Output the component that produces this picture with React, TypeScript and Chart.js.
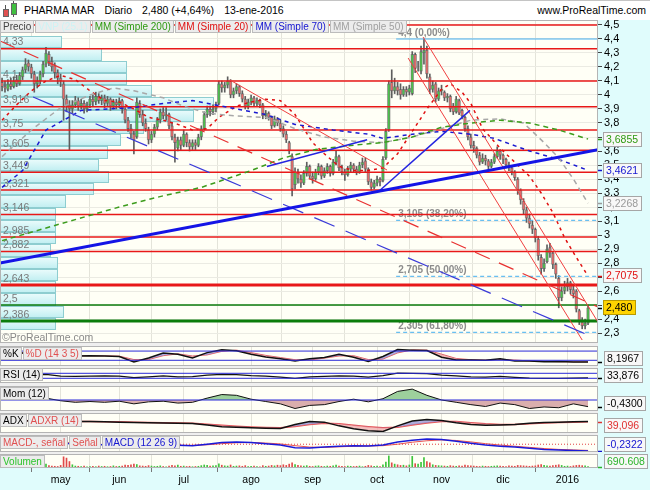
import React, { useEffect, useRef } from "react";
import { Chart, registerables } from "chart.js";

Chart.register(...registerables);

const FONT = '"Liberation Sans", Arial, Helvetica, sans-serif';
Chart.defaults.font.family = FONT;

/* ======================= DATA ======================= */

// trading-day index of the first session of each month
const MONTH_TICKS = [20, 40, 62, 85, 106, 128, 150, 171, 193];
const MONTH_LABELS = ["may", "jun", "jul", "ago", "sep", "oct", "nov", "dic", "2016"];
const PRICE_TICKS = [2.3, 2.4, 2.5, 2.6, 2.7, 2.8, 2.9, 3, 3.1, 3.2, 3.3, 3.4, 3.5, 3.6, 3.7, 3.8, 3.9, 4, 4.1, 4.2, 4.3, 4.4, 4.5];

// daily candles [open, high, low, close], 1-apr-2015 .. 13-jan-2016
const CANDLES = [
  [4.09, 4.12, 4.03, 4.06], [4.06, 4.10, 4.02, 4.05], [4.04, 4.11, 4.03, 4.08], [4.08, 4.12, 4.04, 4.06], [4.06, 4.13, 4.05, 4.10],
  [4.11, 4.14, 4.06, 4.08], [4.08, 4.16, 4.07, 4.14], [4.13, 4.20, 4.11, 4.18], [4.18, 4.26, 4.16, 4.22], [4.23, 4.25, 4.17, 4.20],
  [4.20, 4.22, 4.12, 4.15], [4.15, 4.17, 4.02, 4.08], [4.08, 4.13, 4.05, 4.10], [4.10, 4.17, 4.08, 4.15], [4.15, 4.24, 4.13, 4.22],
  [4.22, 4.34, 4.20, 4.30], [4.29, 4.31, 4.21, 4.24], [4.24, 4.27, 4.17, 4.20], [4.21, 4.23, 4.12, 4.16], [4.16, 4.18, 4.08, 4.12],
  [4.12, 4.15, 4.06, 4.10], [4.08, 4.10, 3.82, 3.97], [3.97, 4.00, 3.88, 3.92], [3.93, 3.96, 3.61, 3.90], [3.90, 3.96, 3.87, 3.93],
  [3.93, 3.99, 3.91, 3.96], [3.96, 3.98, 3.89, 3.92], [3.92, 3.97, 3.90, 3.94], [3.94, 3.96, 3.87, 3.90], [3.90, 3.95, 3.88, 3.93],
  [3.93, 3.99, 3.91, 3.97], [3.97, 4.00, 3.92, 3.95], [3.95, 4.02, 3.93, 3.99], [3.99, 4.01, 3.94, 3.96], [3.96, 4.00, 3.93, 3.98],
  [3.98, 4.00, 3.91, 3.94], [3.94, 3.99, 3.92, 3.97], [3.97, 3.98, 3.89, 3.92], [3.92, 3.97, 3.90, 3.95], [3.95, 3.97, 3.90, 3.93],
  [3.93, 3.98, 3.91, 3.96], [3.96, 3.97, 3.87, 3.90], [3.90, 3.91, 3.80, 3.82], [3.82, 3.84, 3.74, 3.76], [3.76, 3.79, 3.69, 3.72],
  [3.72, 3.74, 3.58, 3.68], [3.70, 3.98, 3.69, 3.95], [3.94, 3.96, 3.84, 3.86], [3.86, 3.89, 3.78, 3.80], [3.80, 3.83, 3.74, 3.76],
  [3.75, 3.77, 3.65, 3.68], [3.68, 3.74, 3.66, 3.72], [3.72, 3.79, 3.70, 3.77], [3.77, 3.84, 3.75, 3.82], [3.82, 3.90, 3.80, 3.88],
  [3.88, 3.91, 3.83, 3.85], [3.85, 3.91, 3.82, 3.86], [3.86, 3.87, 3.76, 3.78], [3.78, 3.80, 3.68, 3.70], [3.70, 3.72, 3.52, 3.66],
  [3.62, 3.70, 3.60, 3.68], [3.68, 3.70, 3.61, 3.64], [3.64, 3.75, 3.63, 3.72], [3.72, 3.73, 3.63, 3.66], [3.66, 3.68, 3.60, 3.63],
  [3.63, 3.68, 3.61, 3.66], [3.66, 3.68, 3.61, 3.64], [3.64, 3.72, 3.63, 3.70], [3.70, 3.78, 3.68, 3.76], [3.76, 3.88, 3.75, 3.86],
  [3.86, 3.92, 3.84, 3.90], [3.90, 3.92, 3.85, 3.88], [3.88, 3.93, 3.86, 3.90], [3.90, 3.95, 3.88, 3.92], [3.94, 4.10, 3.93, 4.08],
  [4.08, 4.10, 4.02, 4.05], [4.05, 4.09, 4.02, 4.07], [4.07, 4.13, 4.05, 4.10], [4.10, 4.11, 3.98, 4.00], [4.00, 4.05, 3.98, 4.03],
  [4.03, 4.08, 4.01, 4.06], [4.06, 4.07, 3.99, 4.01], [4.01, 4.03, 3.95, 3.97], [3.97, 3.99, 3.90, 3.92], [3.92, 3.97, 3.90, 3.95],
  [3.95, 4.00, 3.93, 3.98], [3.98, 3.99, 3.92, 3.94], [3.94, 3.98, 3.92, 3.96], [3.96, 3.97, 3.91, 3.93], [3.93, 3.94, 3.83, 3.85],
  [3.85, 3.89, 3.83, 3.87], [3.87, 3.88, 3.82, 3.84], [3.84, 3.85, 3.76, 3.78], [3.78, 3.85, 3.77, 3.83], [3.83, 3.84, 3.78, 3.80],
  [3.80, 3.82, 3.74, 3.76], [3.76, 3.78, 3.70, 3.72], [3.72, 3.74, 3.66, 3.68], [3.66, 3.67, 3.58, 3.60], [3.56, 3.58, 3.28, 3.33],
  [3.36, 3.48, 3.33, 3.45], [3.45, 3.47, 3.37, 3.40], [3.40, 3.43, 3.34, 3.37], [3.37, 3.46, 3.36, 3.44], [3.44, 3.52, 3.42, 3.49],
  [3.49, 3.50, 3.40, 3.42], [3.42, 3.45, 3.37, 3.40], [3.40, 3.47, 3.39, 3.45], [3.45, 3.51, 3.43, 3.49], [3.49, 3.50, 3.40, 3.42],
  [3.42, 3.48, 3.41, 3.46], [3.46, 3.51, 3.44, 3.49], [3.49, 3.50, 3.42, 3.44], [3.44, 3.54, 3.43, 3.52], [3.52, 3.60, 3.50, 3.56],
  [3.56, 3.57, 3.46, 3.48], [3.48, 3.50, 3.43, 3.45], [3.45, 3.47, 3.39, 3.43], [3.43, 3.49, 3.42, 3.47], [3.47, 3.52, 3.45, 3.50],
  [3.50, 3.51, 3.45, 3.47], [3.47, 3.49, 3.43, 3.45], [3.45, 3.52, 3.44, 3.50], [3.50, 3.55, 3.48, 3.52], [3.53, 3.55, 3.45, 3.47],
  [3.47, 3.48, 3.36, 3.38], [3.38, 3.40, 3.32, 3.34], [3.34, 3.39, 3.33, 3.37], [3.37, 3.42, 3.35, 3.40], [3.40, 3.41, 3.35, 3.38],
  [3.39, 3.56, 3.38, 3.54], [3.55, 3.76, 3.54, 3.74], [3.75, 4.10, 3.74, 4.08], [4.09, 4.18, 3.98, 4.03], [4.03, 4.12, 4.01, 4.06],
  [4.06, 4.09, 4.00, 4.03], [4.04, 4.08, 3.97, 4.00], [4.00, 4.06, 3.99, 4.04], [4.04, 4.06, 3.99, 4.02], [4.02, 4.07, 4.00, 4.05],
  [4.01, 4.31, 4.00, 4.29], [4.29, 4.30, 4.16, 4.19], [4.20, 4.24, 4.17, 4.20], [4.17, 4.35, 4.15, 4.31], [4.30, 4.40, 4.22, 4.32],
  [4.32, 4.35, 4.12, 4.15], [4.13, 4.15, 4.01, 4.04], [4.04, 4.10, 4.02, 4.07], [4.08, 4.09, 3.95, 3.97], [3.97, 4.05, 3.96, 4.03],
  [4.03, 4.07, 4.00, 4.04], [4.02, 4.03, 3.96, 3.98], [3.98, 4.01, 3.95, 3.99], [3.99, 4.00, 3.88, 3.90], [3.92, 3.94, 3.86, 3.88],
  [3.88, 3.99, 3.87, 3.97], [3.96, 3.97, 3.86, 3.87], [3.89, 3.90, 3.83, 3.85], [3.84, 3.85, 3.74, 3.76], [3.76, 3.78, 3.68, 3.70],
  [3.70, 3.72, 3.62, 3.64], [3.64, 3.67, 3.59, 3.62], [3.62, 3.63, 3.55, 3.57], [3.57, 3.59, 3.50, 3.52], [3.52, 3.58, 3.51, 3.55],
  [3.55, 3.57, 3.50, 3.53], [3.53, 3.54, 3.47, 3.49], [3.49, 3.54, 3.48, 3.52], [3.52, 3.58, 3.51, 3.56], [3.56, 3.63, 3.55, 3.60],
  [3.60, 3.61, 3.54, 3.57], [3.57, 3.58, 3.51, 3.54], [3.54, 3.55, 3.48, 3.50], [3.50, 3.52, 3.46, 3.48], [3.48, 3.49, 3.43, 3.45],
  [3.45, 3.46, 3.39, 3.41], [3.40, 3.41, 3.29, 3.32], [3.32, 3.33, 3.22, 3.25], [3.24, 3.26, 3.15, 3.18], [3.18, 3.20, 3.09, 3.12],
  [3.12, 3.15, 3.05, 3.08], [3.07, 3.10, 3.01, 3.04], [3.04, 3.05, 2.95, 2.98], [2.97, 2.99, 2.82, 2.85], [2.84, 2.86, 2.72, 2.76],
  [2.76, 2.83, 2.74, 2.80], [2.81, 2.93, 2.80, 2.90], [2.91, 2.94, 2.84, 2.87], [2.87, 2.88, 2.76, 2.79], [2.79, 2.80, 2.69, 2.72],
  [2.69, 2.71, 2.48, 2.55], [2.55, 2.63, 2.53, 2.60], [2.60, 2.67, 2.58, 2.63], [2.63, 2.69, 2.60, 2.66], [2.66, 2.67, 2.58, 2.61],
  [2.61, 2.64, 2.55, 2.58], [2.60, 2.61, 2.45, 2.47], [2.46, 2.47, 2.36, 2.38], [2.38, 2.41, 2.33, 2.35], [2.35, 2.40, 2.33, 2.37],
  [2.37, 2.50, 2.36, 2.48],
];

// daily volume, thousands of shares
const VOLUME_K = [
  900, 700, 800, 1100, 600, 700, 900, 1000, 1300, 800,
  1500, 1200, 900, 1000, 1400, 1800, 1100, 900, 800, 700,
  1200, 5200, 4600, 3000, 1500, 900, 800, 700, 900, 600,
  700, 800, 600, 900, 700, 800, 600, 700, 1000, 700,
  800, 900, 1300, 1200, 1500, 1800, 1600, 1000, 900, 800,
  1100, 900, 700, 800, 1000, 700, 600, 900, 1200, 1000,
  1300, 800, 900, 700, 800, 600, 700, 800, 1100, 1400,
  1200, 900, 1000, 1100, 1900, 1300, 1000, 900, 1400, 800,
  900, 1000, 800, 1100, 700, 800, 900, 700, 600, 1100,
  800, 900, 1200, 1000, 1300, 1100, 1500, 1200, 1800, 2400,
  1600, 1200, 1000, 900, 1100, 800, 700, 900, 1000, 800,
  700, 900, 800, 1000, 1300, 900, 800, 700, 900, 800,
  700, 800, 900, 600, 800, 1200, 1000, 800, 900, 700,
  1500, 2800, 5600, 2400, 1800, 1500, 1200, 1300, 1000, 1400,
  5400, 2000, 1800, 2600, 4800, 3000, 2400, 1500, 1200, 1100,
  1000, 900, 800, 1100, 900, 800, 1000, 900, 1300, 1100,
  1000, 900, 800, 700, 900, 800, 700, 800, 900, 1000,
  900, 800, 700, 1000, 900, 800, 1200, 1100, 1000, 900,
  800, 900, 1000, 1400, 1600, 1200, 1000, 900, 1100, 1300,
  1500, 1200, 800, 900, 700, 1000, 1200, 1300, 1100, 1000,
  690.608,
];

// moving averages: [day, value]
const MM20 = [[0, 3.82], [5, 3.93], [10, 4.03], [15, 4.10], [20, 4.14], [25, 4.11], [30, 4.03], [35, 3.96], [40, 3.95], [45, 3.90], [50, 3.84], [55, 3.82], [60, 3.79], [65, 3.75], [70, 3.76], [74, 3.84], [80, 3.92], [85, 3.95], [90, 3.97], [95, 3.96], [100, 3.86], [106, 3.66], [110, 3.58], [115, 3.49], [120, 3.46], [125, 3.46], [130, 3.48], [135, 3.58], [140, 3.74], [145, 3.90], [150, 4.04], [153, 4.08], [157, 4.02], [160, 3.94], [164, 3.76], [170, 3.62], [175, 3.52], [180, 3.42], [184, 3.30], [188, 3.16], [192, 2.98], [196, 2.84], [200, 2.7075]];
const MM50 = [[0, 3.56], [10, 3.75], [20, 3.91], [30, 4.0], [38, 4.05], [45, 4.03], [55, 3.98], [62, 3.92], [70, 3.87], [80, 3.85], [90, 3.84], [100, 3.76], [110, 3.70], [120, 3.67], [130, 3.66], [140, 3.70], [150, 3.76], [160, 3.82], [170, 3.83], [178, 3.80], [185, 3.66], [190, 3.55], [195, 3.40], [200, 3.2268]];
const MM70 = [[0, 3.34], [7, 3.46], [15, 3.75], [27, 3.89], [45, 3.91], [55, 3.94], [65, 3.96], [75, 3.92], [90, 3.86], [100, 3.79], [113, 3.75], [125, 3.72], [130, 3.69], [140, 3.72], [150, 3.74], [160, 3.72], [168, 3.69], [180, 3.60], [190, 3.54], [200, 3.4621]];
const MM200 = [[0, 2.96], [20, 3.08], [40, 3.2], [55, 3.28], [68, 3.34], [85, 3.46], [96, 3.55], [107, 3.61], [119, 3.64], [130, 3.66], [140, 3.70], [150, 3.77], [160, 3.80], [170, 3.82], [180, 3.80], [190, 3.75], [200, 3.6855]];

// horizontal support / resistance levels
const RED_LEVELS = [4.5, 4.33, 4.1, 3.916, 3.75, 3.605, 3.449, 3.321, 3.146, 2.985, 2.882];
const THICK_RED_LEVEL = 2.643;
const GREEN_LEVEL = 2.5;
const THICK_GREEN_LEVEL = 2.386;
const LEVEL_LABELS = [4.33, 4.1, 3.916, 3.75, 3.605, 3.449, 3.321, 3.146, 2.985, 2.882, 2.643, 2.5, 2.386];

// Fibonacci retracement
const FIB_START = 134.5;
const FIB_LEVELS = [4.4, 3.105, 2.705, 2.305];
const FIB_PCTS = ["0,00%", "38,20%", "50,00%", "61,80%"];

// volume-at-price profile (VNP), bins from the bottom up
const VNP_LOW = 2.32;
const VNP_STEP = 0.0875;
const VNP_VOLUME = [16, 25, 15, 16, 18, 18, 10, 15, 15, 15, 27, 60, 77, 66, 76, 91, 118, 177, 200, 128, 98, 98, 69, 23];
const VNP_MAX = 598;

// drawn trend lines: [[day, price], [day, price]]
const SUPPORT_LINE = [[-0.7, 2.80], [203.4, 3.61]];
const UP_LINE_1 = [[90.4, 3.49], [124.6, 3.68]];
const UP_LINE_2 = [[129, 3.32], [159.7, 3.89]];
const DOWN_BLUE_DASHED = [[10.6, 3.986], [200.7, 2.279]];
const DOWN_RED_DASHED = [[-0.7, 4.386], [203.4, 2.486]];
const AUG_RED_LINE = [[77.8, 4.107], [131.4, 3.464]];
const STEEP_RED_1 = [[138.6, 4.264], [198, 2.25]];
const STEEP_RED_2 = [[143.7, 4.414], [204, 2.357]];

// oscillators, sampled every 5 sessions
const OSC_DAYS = [0, 5, 10, 15, 20, 25, 30, 35, 40, 45, 50, 55, 60, 65, 70, 75, 80, 85, 90, 95, 100, 105, 110, 115, 120, 125, 130, 135, 140, 145, 150, 155, 160, 165, 170, 175, 180, 185, 190, 195, 200];
const STOCH_K = [70, 72, 60, 80, 50, 48, 50, 48, 45, 9, 35, 67, 60, 35, 70, 88, 82, 60, 42, 30, 15, 30, 38, 60, 40, 12, 45, 90, 86, 84, 40, 22, 22, 20, 30, 15, 15, 10, 12, 9, 8.1967];
const STOCH_D = [65, 70, 66, 72, 62, 50, 49, 49, 47, 25, 25, 50, 62, 48, 55, 78, 86, 70, 52, 38, 24, 22, 34, 48, 50, 25, 28, 68, 88, 86, 60, 32, 24, 21, 25, 22, 16, 13, 11, 10, 10];
const RSI = [55, 56, 58, 62, 48, 45, 48, 50, 48, 36, 42, 50, 42, 44, 55, 62, 60, 52, 48, 40, 30, 42, 45, 50, 48, 40, 52, 72, 70, 68, 55, 50, 42, 40, 45, 38, 32, 30, 30, 32, 33.876];
const MOM = [0.15, 0.1, 0.08, 0.12, -0.05, -0.15, -0.1, -0.15, -0.08, -0.25, -0.12, -0.08, -0.2, -0.15, 0.12, 0.35, 0.3, 0.05, -0.1, -0.25, -0.55, -0.35, -0.3, -0.1, 0.05, -0.12, 0.08, 0.55, 0.7, 0.3, 0.0, -0.15, -0.3, -0.42, -0.2, -0.3, -0.55, -0.45, -0.5, -0.25, -0.43];
const ADX = [45, 44, 42, 41, 40, 40, 40, 39, 38, 37, 36, 35, 34, 33, 28, 22, 20, 18, 17, 16, 30, 40, 38, 25, 15, 8, 5, 25, 42, 47, 44, 36, 30, 27, 28, 30, 34, 37, 38, 39, 40];
const ADXR = [44, 44, 43, 42, 41, 40, 40, 39, 39, 38, 37, 36, 35, 34, 31, 27, 24, 21, 19, 18, 23, 30, 34, 32, 27, 22, 18, 20, 28, 35, 40, 40, 36, 32, 30, 30, 32, 35, 37, 38, 39.096];
const MACD = [0.05, 0.06, 0.07, 0.09, 0.05, 0.0, -0.02, -0.02, -0.02, -0.05, -0.05, -0.03, -0.04, -0.05, 0.0, 0.06, 0.08, 0.06, 0.02, -0.03, -0.12, -0.13, -0.1, -0.07, -0.05, -0.06, -0.03, 0.08, 0.14, 0.18, 0.16, 0.1, 0.03, -0.03, -0.07, -0.1, -0.14, -0.18, -0.2, -0.22, -0.2322];
const MACD_SIGNAL = [0.04, 0.05, 0.06, 0.07, 0.07, 0.04, 0.01, -0.01, -0.02, -0.03, -0.04, -0.04, -0.04, -0.04, -0.02, 0.02, 0.05, 0.06, 0.04, 0.01, -0.05, -0.1, -0.11, -0.09, -0.07, -0.06, -0.05, 0.0, 0.07, 0.12, 0.15, 0.13, 0.08, 0.02, -0.03, -0.07, -0.11, -0.15, -0.18, -0.2, -0.215];

/* ======================= LAYOUT / STYLE ======================= */

const X_MIN = -0.7;
const X_MAX = 203.4;
const PRICE_MIN = 2.2286;
const PRICE_MAX = 4.5357;
const AXIS_W = 52;

const PLOT_BG = "#fffff6";
const AXIS_BG = "#e0fcfc";
const GAP_BG = "#efefef";
const PANEL_BORDER = "#b4b4b4";
const GRID = "#e4e4da";
const RED = "#e81818";
const BODY_GREEN = "#4cc04c";
const BODY_RED = "#e46a6a";

const P = {
  main: { top: 20, h: 323 },
  k: { top: 346, h: 20 },
  rsi: { top: 368, h: 15 },
  mom: { top: 386, h: 25 },
  adx: { top: 413, h: 20 },
  macd: { top: 435, h: 17 },
  vol: { top: 454, h: 14 },
};

const comma = (v: number, d: number) => v.toFixed(d).replace(".", ",");
const levelText = (v: number) => String(Math.round(v * 1000) / 1000).replace(".", ",");
const pts = (pairs: number[][]) => pairs.map(([x, y]) => ({ x, y }));
const osc = (vals: number[]) => OSC_DAYS.map((d, k) => ({ x: d, y: vals[k] }));
const hline = (v: number) => pts([[X_MIN, v], [X_MAX, v]]);
const last = (a: any[]) => a[a.length - 1];

function ln(data: any[], color: string, width: number, dash: number[] = [], order = 3, extra: any = {}) {
  return {
    type: "line", data, borderColor: color, borderWidth: width, borderDash: dash,
    pointRadius: 0, pointHoverRadius: 0, fill: false, tension: 0, order, borderCapStyle: "butt", ...extra,
  };
}

function xScale(labels: boolean) {
  return {
    type: "linear", min: X_MIN, max: X_MAX, offset: false,
    afterBuildTicks: (s: any) => { s.ticks = MONTH_TICKS.map((v) => ({ value: v })); },
    afterFit: (s: any) => { s.height = labels ? 22 : 0; s.paddingLeft = 0; s.paddingRight = 0; },
    grid: { color: GRID, drawTicks: labels, tickLength: 4, tickColor: "#777" },
    border: { display: false },
    ticks: {
      display: labels, autoSkip: false, maxRotation: 0, padding: 2, color: "#000",
      font: { family: FONT, size: 10.5 },
      callback: (v: number) => { const k = MONTH_TICKS.indexOf(v); return k >= 0 ? MONTH_LABELS[k] : ""; },
    },
  };
}

function drawBadge(ctx: any, x: number, yc: number, text: string, color: string, bg = "#f8f8f8", border = "#a6a6a6") {
  ctx.save();
  ctx.font = `10.5px ${FONT}`;
  const w = Math.ceil(ctx.measureText(text).width) + 6;
  const h = 15;
  const top = Math.round(yc - h / 2);
  ctx.fillStyle = bg;
  ctx.fillRect(x, top, w, h);
  ctx.strokeStyle = border;
  ctx.lineWidth = 1;
  ctx.strokeRect(x + 0.5, top + 0.5, w - 1, h - 1);
  ctx.fillStyle = color;
  ctx.textBaseline = "middle";
  ctx.textAlign = "left";
  ctx.fillText(text, x + 3, top + h / 2 + 0.5);
  ctx.restore();
}

function drawTick(ctx: any, x: number, y: number, color: string) {
  ctx.save();
  ctx.strokeStyle = color;
  ctx.lineWidth = 1.5;
  ctx.beginPath();
  ctx.moveTo(x, Math.round(y) + 0.5);
  ctx.lineTo(x + 4, Math.round(y) + 0.5);
  ctx.stroke();
  ctx.restore();
}

function fillArea(chart: any) {
  const { ctx, chartArea: a } = chart;
  ctx.save();
  ctx.fillStyle = PLOT_BG;
  ctx.fillRect(a.left, a.top, a.right - a.left, a.bottom - a.top);
  ctx.restore();
}

function strokeArea(chart: any) {
  const { ctx, chartArea: a } = chart;
  ctx.save();
  ctx.strokeStyle = PANEL_BORDER;
  ctx.lineWidth = 1;
  ctx.strokeRect(a.left + 0.5, a.top + 0.5, a.right - a.left - 1, a.bottom - a.top - 1);
  ctx.restore();
}

/* ======================= MAIN PRICE CHART ======================= */

const mainDecor = {
  id: "mainDecor",
  beforeDraw: (chart: any) => fillArea(chart),
  beforeDatasetsDraw(chart: any) {
    const { ctx, chartArea: a, scales } = chart;
    const y = scales.y, xv = scales.xv, x = scales.x;
    ctx.save();
    VNP_VOLUME.forEach((v, k) => {
      const lo = VNP_LOW + k * VNP_STEP;
      const y1 = Math.round(y.getPixelForValue(lo + VNP_STEP));
      const y2 = Math.round(y.getPixelForValue(lo));
      const x2 = Math.round(xv.getPixelForValue(v));
      const g = ctx.createLinearGradient(0, y1, 0, y2);
      g.addColorStop(0, "#ecfcfc");
      g.addColorStop(1, "#bfeef1");
      ctx.fillStyle = g;
      ctx.fillRect(a.left, y1, x2 - a.left, y2 - y1);
      ctx.strokeStyle = "#8ecdd0";
      ctx.lineWidth = 1;
      ctx.strokeRect(a.left + 0.5, y1 + 0.5, x2 - a.left - 1, y2 - y1 - 1);
    });
    ctx.font = `10.5px ${FONT}`;
    ctx.fillStyle = "#7a7a7a";
    ctx.textBaseline = "bottom";
    ctx.textAlign = "left";
    LEVEL_LABELS.forEach((p) => ctx.fillText(levelText(p), a.left + 3, y.getPixelForValue(p) - 1));
    ctx.font = `bold 10px ${FONT}`;
    ctx.fillStyle = "#8c8c8c";
    FIB_LEVELS.forEach((p, k) =>
      ctx.fillText(`${levelText(p)} (${FIB_PCTS[k]})`, x.getPixelForValue(FIB_START) + 2, y.getPixelForValue(p) - 1)
    );
    ctx.restore();
  },
  afterDraw(chart: any) {
    strokeArea(chart);
    const { ctx, chartArea: a, scales } = chart;
    const y = scales.y;
    const badges = [
      { v: last(MM200)[1], d: 4, color: "#2e9a10" },
      { v: last(MM70)[1], d: 4, color: "#1414d0" },
      { v: last(MM50)[1], d: 4, color: "#9a9a9a" },
      { v: last(MM20)[1], d: 4, color: "#e01010" },
    ];
    badges.forEach((b) => {
      const py = y.getPixelForValue(b.v);
      drawTick(ctx, a.right, py, b.color);
      drawBadge(ctx, a.right + 5, py, comma(b.v, b.d), b.color);
    });
    const close = last(CANDLES)[3];
    const py = y.getPixelForValue(close);
    drawTick(ctx, a.right, py, "#000");
    drawBadge(ctx, a.right + 5, py, comma(close, 3), "#000", "#ffd400", "#b89a00");
  },
};

function mainConfig() {
  const ds: any[] = [];
  RED_LEVELS.forEach((p) => ds.push(ln(hline(p), RED, 1.5, [], 4)));
  ds.push(ln(hline(THICK_RED_LEVEL), RED, 3, [], 4));
  ds.push(ln(hline(GREEN_LEVEL), "#0b7a0b", 1.5, [], 4));
  ds.push(ln(hline(THICK_GREEN_LEVEL), "#0b7d0b", 3, [], 4));
  FIB_LEVELS.forEach((p, k) => ds.push(ln(pts([[FIB_START, p], [X_MAX, p]]), "#44b0f0", 1, k ? [4, 3] : [], 4)));
  ds.push(ln(pts(SUPPORT_LINE), "#1414e6", 3, [], 2));
  ds.push(ln(pts(UP_LINE_1), "#2424e0", 1.5, [], 2));
  ds.push(ln(pts(UP_LINE_2), "#2424e0", 1.5, [], 2));
  ds.push(ln(pts(DOWN_BLUE_DASHED), "#3a3ad8", 1.2, [22, 12], 2));
  ds.push(ln(pts(DOWN_RED_DASHED), "#e83030", 1.2, [16, 10], 2));
  ds.push(ln(pts(AUG_RED_LINE), "#f04040", 1, [], 2));
  ds.push(ln(pts(STEEP_RED_1), "#f04040", 1, [], 2));
  ds.push(ln(pts(STEEP_RED_2), "#f04040", 1, [], 2));
  ds.push(ln(pts(MM200), "#3c9c1c", 1.5, [5, 4], 3));
  ds.push(ln(pts(MM50), "#a8a8a8", 1.5, [5, 4], 3));
  ds.push(ln(pts(MM70), "#1a1ad0", 1.5, [4, 4], 3));
  ds.push(ln(pts(MM20), "#e01010", 1.5, [3, 4], 3));
  ds.push({
    type: "bar", data: CANDLES.map((c, i) => ({ x: i, y: [c[2], c[1]] })),
    backgroundColor: "#5e5e5e", barThickness: 1, grouped: false, order: 21,
  });
  ds.push({
    type: "bar", data: CANDLES.map((c, i) => ({ x: i, y: [c[0], c[3]] })),
    backgroundColor: CANDLES.map((c) => (c[3] >= c[0] ? BODY_GREEN : BODY_RED)),
    borderColor: "rgba(95,95,95,0.6)", borderWidth: 1, borderSkipped: false,
    barThickness: 3, grouped: false, order: 20,
  });
  return {
    type: "bar",
    data: { datasets: ds },
    options: {
      animation: false, responsive: false, events: [],
      layout: { autoPadding: false, padding: 0 },
      plugins: { legend: { display: false }, tooltip: { enabled: false } },
      scales: {
        x: xScale(false),
        xv: { type: "linear", display: false, min: 0, max: VNP_MAX },
        y: {
          type: "linear", position: "right", min: PRICE_MIN, max: PRICE_MAX,
          afterBuildTicks: (s: any) => { s.ticks = PRICE_TICKS.map((v) => ({ value: v })); },
          afterFit: (s: any) => { s.width = AXIS_W; s.paddingTop = 0; s.paddingBottom = 0; },
          grid: { color: "#ebebe3", tickColor: "#444", tickLength: 4, drawTicks: true },
          border: { display: false },
          ticks: {
            autoSkip: false, padding: 2, color: "#000", font: { family: FONT, size: 11 },
            callback: (v: number) => String(Math.round(v * 10) / 10).replace(".", ","),
          },
        },
      },
    },
    plugins: [mainDecor],
  };
}

/* ======================= INDICATOR PANELS ======================= */

function subDecor(id: string, badges: any[]) {
  return {
    id,
    beforeDraw: (chart: any) => fillArea(chart),
    afterDraw(chart: any) {
      strokeArea(chart);
      const { ctx, chartArea: a, scales } = chart;
      const h = a.bottom - a.top;
      badges.forEach((b) => {
        const yv = scales.y.getPixelForValue(b.value);
        drawTick(ctx, a.right, Math.min(Math.max(yv, a.top + 1), a.bottom - 1), b.color);
        const yc = h <= 16 ? (a.top + a.bottom) / 2 : Math.min(Math.max(yv, a.top + 7.5), a.bottom - 7.5);
        drawBadge(ctx, a.right + 6, yc + (b.dy || 0), b.text, b.color);
      });
    },
  };
}

function subConfig(type: string, datasets: any[], yMin: number, yMax: number, decor: any, labels = false) {
  return {
    type,
    data: { datasets },
    options: {
      animation: false, responsive: false, events: [],
      layout: { autoPadding: false, padding: { left: 0, right: AXIS_W, top: 0, bottom: 0 } },
      plugins: { legend: { display: false }, tooltip: { enabled: false } },
      scales: {
        x: xScale(labels),
        y: { type: "linear", display: false, min: yMin, max: yMax },
      },
    },
    plugins: [decor],
  };
}

const BLUE_REF = "#2a2ad8";

function kConfig() {
  return subConfig("line", [
    ln(osc(STOCH_K), "#111", 1.5, [], 2, { fill: { target: "+1", above: "rgba(120,120,210,0.6)", below: "rgba(236,140,140,0.6)" } }),
    ln(osc(STOCH_D), "#e86060", 1, [], 3),
    ln(hline(80), BLUE_REF, 1, [], 1),
    ln(hline(20), BLUE_REF, 1, [], 1),
  ], -17, 113, subDecor("kDecor", [{ value: last(STOCH_K), text: comma(last(STOCH_K), 4), color: "#000" }]));
}

function rsiConfig() {
  return subConfig("line", [
    ln(osc(RSI), "#111", 1.3, [], 2),
    ln(hline(70), BLUE_REF, 1, [], 1),
    ln(hline(30), BLUE_REF, 1, [], 1),
  ], -7.6, 112.4, subDecor("rsiDecor", [{ value: last(RSI), text: comma(last(RSI), 3), color: "#000" }]));
}

function momConfig() {
  return subConfig("line", [
    ln(osc(MOM), "#111", 1, [], 2, { fill: { target: "origin", above: "rgba(140,200,140,0.85)", below: "rgba(212,160,160,0.85)" } }),
    ln(hline(0), BLUE_REF, 1.2, [], 1),
  ], -0.71, 0.9, subDecor("momDecor", [{ value: last(MOM), text: comma(last(MOM), 4), color: "#000" }]));
}

function adxConfig() {
  return subConfig("line", [
    ln(osc(ADX), "#111", 1.5, [], 2, { fill: { target: "+1", above: "rgba(140,140,210,0.7)", below: "rgba(238,165,165,0.7)" } }),
    ln(osc(ADXR), "#e85050", 1.5, [], 3),
  ], 0, 70, subDecor("adxDecor", [{ value: last(ADXR), text: comma(last(ADXR), 3), color: "#e03030", dy: 4 }]));
}

function macdConfig() {
  return subConfig("line", [
    ln(hline(0), "#e04040", 1, [1, 2], 4),
    ln(osc(MACD_SIGNAL), "#e85050", 1, [], 3),
    ln(osc(MACD), "#1a1ad8", 1.5, [], 2),
  ], -0.27, 0.32, subDecor("macdDecor", [{ value: last(MACD), text: comma(last(MACD), 4), color: "#1414d0" }]));
}

function volConfig() {
  const lastVol = Math.round(last(VOLUME_K) * 1000);
  const volText = String(lastVol).replace(/\B(?=(\d{3})+(?!\d))/g, ".");
  return subConfig("bar", [
    {
      type: "bar", data: VOLUME_K.map((v, i) => ({ x: i, y: v })),
      backgroundColor: CANDLES.map((c) => (c[3] >= c[0] ? "#3cc43c" : "#e04a4a")),
      barThickness: 1, grouped: false,
    },
  ], 0, 6500, subDecor("volDecor", [{ value: last(VOLUME_K), text: volText, color: "#2cb42c" }]), true);
}

/* ======================= COMPONENT ======================= */

const LEG_BOX: any = {
  display: "inline-block", height: 11, lineHeight: "11px", fontSize: 10, padding: "0 2px",
  background: "#ececec", border: "1px solid #bcbcbc", whiteSpace: "nowrap", marginRight: 1,
};

function LegendRow({ top, items }: { top: number; items: string[][] }) {
  return (
    <div style={{ position: "absolute", left: 0, top, display: "flex", whiteSpace: "nowrap" }}>
      {items.map(([t, c], k) => (
        <span key={k} style={{ ...LEG_BOX, color: c }}>{t}</span>
      ))}
    </div>
  );
}

function Cnv({ r, top, h }: { r: any; top: number; h: number }) {
  return <canvas ref={r} width={650} height={h} style={{ position: "absolute", left: 0, top, width: 650, height: h }} />;
}

export default function App() {
  const mainRef = useRef<HTMLCanvasElement>(null);
  const kRef = useRef<HTMLCanvasElement>(null);
  const rsiRef = useRef<HTMLCanvasElement>(null);
  const momRef = useRef<HTMLCanvasElement>(null);
  const adxRef = useRef<HTMLCanvasElement>(null);
  const macdRef = useRef<HTMLCanvasElement>(null);
  const volRef = useRef<HTMLCanvasElement>(null);

  useEffect(() => {
    document.body.style.margin = "0";
    const charts: any[] = [];
    const mk = (ref: any, cfg: any) => { if (ref.current) charts.push(new Chart(ref.current, cfg)); };
    mk(mainRef, mainConfig());
    mk(kRef, kConfig());
    mk(rsiRef, rsiConfig());
    mk(momRef, momConfig());
    mk(adxRef, adxConfig());
    mk(macdRef, macdConfig());
    mk(volRef, volConfig());
    return () => charts.forEach((c) => c.destroy());
  }, []);

  const txt: any = { fontSize: 10.5, lineHeight: "12px", color: "#000", whiteSpace: "nowrap" };

  return (
    <div
      style={{
        position: "absolute", left: 0, top: 0, width: 650, height: 490, overflow: "hidden", fontFamily: FONT,
        background: `linear-gradient(to right, ${GAP_BG} 0px, ${GAP_BG} 598px, ${AXIS_BG} 598px, ${AXIS_BG} 650px)`,
      }}
    >
      {/* header */}
      <div style={{ position: "absolute", left: 0, top: 0, width: 650, height: 20, background: "#fff", borderTop: "1px solid #c4c4c4", boxSizing: "border-box" }} />
      <div style={{ position: "absolute", left: 5, top: 5, width: 1, height: 12, background: "#555" }} />
      <div style={{ position: "absolute", left: 3, top: 9, width: 4, height: 6, background: "#e05050", border: "1px solid #666" }} />
      <div style={{ position: "absolute", left: 13, top: 1, width: 1, height: 16, background: "#555" }} />
      <div style={{ position: "absolute", left: 11, top: 3, width: 4, height: 10, background: "#40c040", border: "1px solid #666" }} />
      <div style={{ position: "absolute", left: 24, top: 4, display: "flex", gap: 10 }}>
        <span style={txt}>PHARMA MAR</span>
        <span style={txt}>Diario</span>
        <span style={txt}>2,480 (+4,64%)</span>
        <span style={txt}>13-ene-2016</span>
      </div>
      <span style={{ ...txt, position: "absolute", top: 4, right: 4 }}>www.ProRealTime.com</span>

      {/* bottom axis strip */}
      <div style={{ position: "absolute", left: 0, top: 468, width: 650, height: 22, background: AXIS_BG }} />

      <Cnv r={mainRef} top={P.main.top} h={P.main.h} />
      <Cnv r={kRef} top={P.k.top} h={P.k.h} />
      <Cnv r={rsiRef} top={P.rsi.top} h={P.rsi.h} />
      <Cnv r={momRef} top={P.mom.top} h={P.mom.h} />
      <Cnv r={adxRef} top={P.adx.top} h={P.adx.h} />
      <Cnv r={macdRef} top={P.macd.top} h={P.macd.h} />
      <Cnv r={volRef} top={P.vol.top} h={P.vol.h + 22} />

      <LegendRow top={20} items={[["Precio", "#444"], ["VNP (25.1)", "#cdf3f5"], ["MM (Simple 200)", "#2e9a10"], ["MM (Simple 20)", "#e01010"], ["MM (Simple 70)", "#1414d0"], ["MM (Simple 50)", "#a0a0a0"]]} />
      <span style={{ position: "absolute", left: 2, top: 331, fontSize: 10.5, color: "#8a8a8a", whiteSpace: "nowrap" }}>©ProRealTime.com</span>
      <LegendRow top={P.k.top + 1} items={[["%K", "#000"], ["%D (14 3 5)", "#e05050"]]} />
      <LegendRow top={P.rsi.top} items={[["RSI (14)", "#000"]]} />
      <LegendRow top={P.mom.top + 1} items={[["Mom (12)", "#000"]]} />
      <LegendRow top={P.adx.top + 1} items={[["ADX", "#000"], ["ADXR (14)", "#e05050"]]} />
      <LegendRow top={P.macd.top + 1} items={[["MACD-, señal", "#e05050"], ["Señal", "#e05050"], ["MACD (12 26 9)", "#1414d0"]]} />
      <LegendRow top={P.vol.top + 1} items={[["Volumen", "#2cc42c"]]} />
    </div>
  );
}
